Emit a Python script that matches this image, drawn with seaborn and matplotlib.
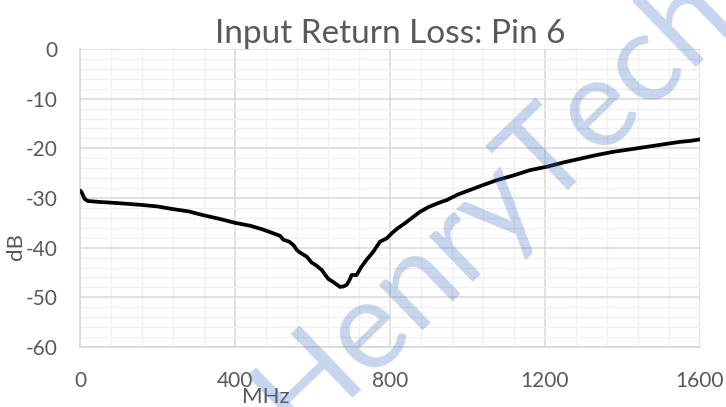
import numpy as np
import pandas as pd
import matplotlib
matplotlib.use("Agg")
import matplotlib.pyplot as plt
import seaborn as sns
from matplotlib.ticker import MultipleLocator

# Input return loss readings (frequency in MHz, return loss in dB)
freq_mhz = [0, 4, 12, 20, 50, 72, 110, 160, 200, 237, 280, 315, 360, 400, 440,
            470, 495, 516, 525, 540, 551, 560, 568, 585, 598, 610, 624, 633, 641,
            655, 671, 680, 688, 695, 701, 714, 725, 740, 757, 774, 792, 806, 818,
            840, 860, 877, 900, 925, 947, 975, 1006, 1040, 1076, 1117, 1161, 1205,
            1250, 1290, 1330, 1376, 1420, 1463, 1505, 1548, 1575, 1600]
loss_db = [-28.5, -28.8, -30.2, -30.6, -30.8, -30.9, -31.1, -31.4, -31.7, -32.2,
           -32.7, -33.4, -34.2, -35.0, -35.6, -36.3, -37.0, -37.6, -38.4, -38.8,
           -39.5, -40.5, -41.0, -41.8, -43.0, -43.6, -44.5, -45.5, -46.3, -47.0,
           -47.9, -47.8, -47.5, -46.6, -45.5, -45.5, -44.0, -42.4, -40.8, -38.8,
           -38.1, -37.0, -36.2, -35.0, -33.8, -32.8, -31.8, -31.0, -30.4, -29.3,
           -28.4, -27.4, -26.4, -25.5, -24.4, -23.7, -22.8, -22.1, -21.4, -20.7,
           -20.2, -19.7, -19.2, -18.7, -18.5, -18.2]

x_ticks = [0, 400, 800, 1200, 1600]
y_ticks = [0, -10, -20, -30, -40, -50, -60]

title = "Input Return Loss: Pin 6"
watermark = "HenryTech"

sns.set_style("white")
plt.rcParams["font.family"] = ["Lato", "DejaVu Sans"]
plt.rcParams["axes.unicode_minus"] = False

grey_text = "#595959"
major_grid = "#d9d9d9"
minor_grid = "#f0f0f0"

df = pd.DataFrame({"MHz": freq_mhz, "dB": loss_db})

fig = plt.figure(figsize=(7.26, 4.07), dpi=100)
ax = fig.add_axes([80 / 726, 60 / 407, 620 / 726, 298 / 407])

sns.lineplot(data=df, x="MHz", y="dB", ax=ax, color="black", linewidth=2.7,
             zorder=3)

ax.set_xlim(0, 1600)
ax.set_ylim(-60, 0)
ax.set_xticks(x_ticks)
ax.set_yticks(y_ticks)
ax.xaxis.set_minor_locator(MultipleLocator(80))
ax.yaxis.set_minor_locator(MultipleLocator(2))
ax.grid(which="major", color=major_grid, linewidth=1.1, zorder=1)
ax.grid(which="minor", color=minor_grid, linewidth=1.0, zorder=0)
ax.set_axisbelow(True)
for side in ["top", "right", "left", "bottom"]:
    ax.spines[side].set_visible(side in ("left", "bottom"))
    ax.spines[side].set_color(major_grid)
    ax.spines[side].set_linewidth(1.2)
ax.tick_params(axis="both", which="both", length=0, labelsize=15,
               labelcolor=grey_text)
ax.tick_params(axis="y", pad=16)
ax.tick_params(axis="x", pad=17)
ax.set_xlabel("")
ax.set_ylabel("")

ax.set_title(title, fontsize=24, color=grey_text, pad=4)
fig.text(266 / 726, 1 - 397 / 407, "MHz", fontsize=16, color=grey_text,
         ha="center", va="center")
fig.text(16 / 726, 1 - 246 / 407, "dB", fontsize=16, color=grey_text,
         ha="center", va="center", rotation=90)

# watermark
fig.text(298 / 726, 1 - 440 / 407, watermark, fontsize=90, color="#4472c4",
         alpha=0.3, rotation=44, rotation_mode="anchor", ha="left",
         va="baseline", zorder=10)

fig.savefig("out.png", dpi=100)
